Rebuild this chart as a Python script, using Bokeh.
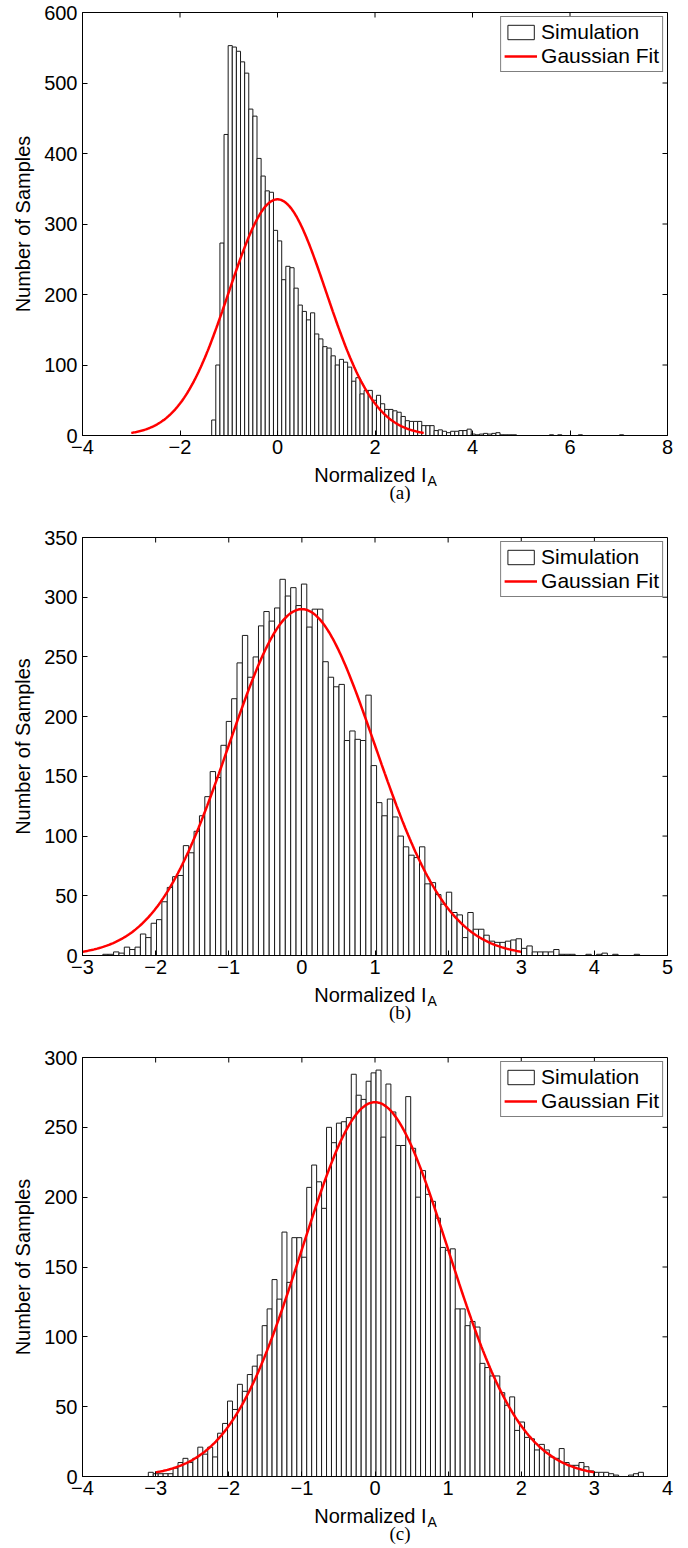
import numpy as np
from bokeh.plotting import figure
from bokeh.models import Range1d, Legend, LegendItem, FixedTicker
from bokeh.core.properties import value
from bokeh.layouts import column
from bokeh.embed import file_html
from bokeh.resources import INLINE

FONT = "Liberation Sans"
SERIF = "Liberation Serif"

# ---------------- data: panel (a) ----------------
a_bin_start = -1.35
a_bin_width = 0.0845
a_counts = [22, 100, 273, 427, 553, 551, 545, 530, 514, 463, 453, 393, 368, 347, 345,
            291, 276, 221, 240, 238, 209, 185, 176, 164, 174, 144, 137, 126, 124, 113,
            100, 108, 104, 97, 77, 82, 59, 64, 64, 50, 57, 45, 37,
            37, 35, 33, 27, 21, 20, 20, 20, 14, 14, 14, 7, 8, 6, 4, 6, 6, 7, 7, 9,
            2, 1, 2, 3, 2, 3, 4, 1, 1, 1, 1,
            0, 0, 0, 0, 0, 0, 0, 0, 1, 0, 1, 0, 0, 0, 0, 1, 0, 0, 0, 0, 0, 0, 0, 0, 0, 1]
a_fit = dict(peak=335, mean=0.0, sigma=1.0, lo=-3.0, hi=3.0)
a_xticks = [-4, -2, 0, 2, 4, 6, 8]
a_xlabels = ["\u22124", "\u22122", "0", "2", "4", "6", "8"]
a_yticks = [0, 100, 200, 300, 400, 500, 600]
a_ylabels = ["0", "100", "200", "300", "400", "500", "600"]

# ---------------- data: panel (b) ----------------
b_bin_start = -2.722
b_bin_width = 0.0734
b_counts = [1, 1, 3, 2, 7, 5, 7, 18, 15, 27, 30, 45, 57, 66, 67, 92, 86, 104, 117, 133,
            154, 149, 176, 196, 215, 245, 268, 233, 250, 276, 288, 280, 291, 315, 301, 308,
            293, 311, 275, 290, 290, 246, 233, 225, 227, 180, 188, 181, 180, 218,
            159, 128, 117, 131, 116, 100, 91, 84, 82, 91, 60, 61, 51, 43, 53, 36, 34, 15,
            36, 22, 22, 17, 12, 11, 11, 12, 13, 14, 6, 8, 3, 3, 3, 3, 5, 1, 1, 1, 0, 0,
            1, 0, 1, 2, 0, 1, 0, 0, 0, 1]
b_fit = dict(peak=290, mean=0.0, sigma=1.0, lo=-3.0, hi=3.0)
b_xticks = [-3, -2, -1, 0, 1, 2, 3, 4, 5]
b_xlabels = ["\u22123", "\u22122", "\u22121", "0", "1", "2", "3", "4", "5"]
b_yticks = [0, 50, 100, 150, 200, 250, 300, 350]
b_ylabels = ["0", "50", "100", "150", "200", "250", "300", "350"]

# ---------------- data: panel (c) ----------------
c_bin_start = -3.10
c_bin_width = 0.0677
c_counts = [3, 2, 2, 2, 2, 6, 10, 13, 10, 13, 21, 16, 21, 14, 31, 38, 54, 48, 66, 61,
            73, 79, 87, 108, 120, 141, 127, 175, 139, 171, 171, 157, 207, 223, 211, 192,
            250, 239, 253, 254, 257, 288, 273, 270,
            283, 289, 291, 243, 281, 261, 237, 237, 272, 235, 200, 219, 202, 197, 185, 164,
            162, 163, 120, 120, 108, 111, 107, 81, 78, 72, 72, 60, 51, 57, 33, 39, 28, 27,
            19, 23, 19, 14, 13, 20, 10, 8, 8, 10, 7, 4, 3, 3, 3, 2, 1, 0, 0, 1, 2, 3]
c_fit = dict(peak=268, mean=0.0, sigma=1.0, lo=-3.0, hi=3.0)
c_xticks = [-4, -3, -2, -1, 0, 1, 2, 3, 4]
c_xlabels = ["\u22124", "\u22123", "\u22122", "\u22121", "0", "1", "2", "3", "4"]
c_yticks = [0, 50, 100, 150, 200, 250, 300]
c_ylabels = ["0", "50", "100", "150", "200", "250", "300"]

X_LABEL = "Normalized I"
X_LABEL_SUB = "A"
Y_LABEL = "Number of Samples"

PAGE_W = 688
BORDER_L = 82
BORDER_R = 21
FRAME_W = PAGE_W - BORDER_L - BORDER_R   # 585
BORDER_B = 27
TICK_LEN = 5
STRIP_H = 44


def make_panel(counts, bin_start, bin_width, fit, xticks, xlabels, yticks, ylabels,
               border_top, frame_h):
    xr = (xticks[0], xticks[-1])
    yr = (yticks[0], yticks[-1])
    p = figure(frame_width=FRAME_W, frame_height=frame_h,
               x_range=Range1d(*xr), y_range=Range1d(*yr),
               output_backend="svg", toolbar_location=None,
               min_border_left=BORDER_L, min_border_right=BORDER_R,
               min_border_top=border_top, min_border_bottom=BORDER_B,
               background_fill_color="white", border_fill_color="white")
    p.outline_line_color = "black"
    p.outline_line_width = 1
    p.outline_line_alpha = 1
    p.xgrid.visible = False
    p.ygrid.visible = False

    # histogram bars
    n = len(counts)
    edges = bin_start + bin_width * np.arange(n + 1)
    bars = p.quad(left=edges[:-1], right=edges[1:], top=counts, bottom=0,
                  fill_color="white", line_color="#1a1a1a", line_width=1)

    # gaussian fit
    xs = np.linspace(fit["lo"], fit["hi"], 300)
    ys = fit["peak"] * np.exp(-((xs - fit["mean"]) ** 2) / (2 * fit["sigma"] ** 2))
    fitline = p.line(xs, ys, line_color="#ff0000", line_width=2.5)

    # axes styling
    for ax, ticks, labels in ((p.xaxis[0], xticks, xlabels), (p.yaxis[0], yticks, ylabels)):
        ax.ticker = FixedTicker(ticks=ticks)
        ax.major_label_overrides = {t: l for t, l in zip(ticks, labels)}
        ax.major_tick_in = TICK_LEN
        ax.major_tick_out = 0
        ax.minor_tick_line_color = None
        ax.axis_line_color = "black"
        ax.major_tick_line_color = "black"
        ax.major_label_text_color = "black"
        ax.major_label_text_font = FONT
        ax.major_label_text_font_size = "20px"
    p.xaxis.major_label_standoff = 4
    p.yaxis.major_label_standoff = 5
    p.yaxis.axis_label = Y_LABEL
    p.yaxis.axis_label_text_font = FONT
    p.yaxis.axis_label_text_font_size = "20px"
    p.yaxis.axis_label_text_font_style = "normal"
    p.yaxis.axis_label_text_color = "black"
    p.yaxis.axis_label_standoff = 7

    # mirrored inward ticks on the top and right edges of the box
    px_x = FRAME_W / (xr[1] - xr[0])
    px_y = frame_h / (yr[1] - yr[0])
    tx = np.array(xticks, dtype=float)
    ty = np.array(yticks, dtype=float)
    p.segment(x0=tx, y0=np.full_like(tx, yr[1]), x1=tx, y1=yr[1] - TICK_LEN / px_y,
              line_color="black", line_width=1)
    p.segment(x0=np.full_like(ty, xr[1]), y0=ty, x1=xr[1] - TICK_LEN / px_x, y1=ty,
              line_color="black", line_width=1)

    legend = Legend(items=[LegendItem(label="Simulation", renderers=[bars]),
                           LegendItem(label="Gaussian Fit", renderers=[fitline])],
                    location="top_right")
    legend.margin = 4
    legend.padding = 3
    legend.spacing = 0
    legend.glyph_width = 33
    legend.glyph_height = 18
    legend.label_height = 20
    legend.label_standoff = 4
    legend.label_text_font = FONT
    legend.label_text_font_size = "21px"
    legend.label_text_color = "black"
    legend.border_line_color = "black"
    legend.border_line_width = 1
    legend.background_fill_color = "white"
    legend.background_fill_alpha = 1
    p.add_layout(legend)
    return p


def make_strip(xticks, caption):
    # strip under a panel: x-axis label (with subscript) and the caption
    xr = (xticks[0], xticks[-1])
    s = figure(frame_width=FRAME_W, frame_height=STRIP_H,
               x_range=Range1d(*xr), y_range=Range1d(STRIP_H, 0),
               output_backend="svg", toolbar_location=None,
               min_border_left=BORDER_L, min_border_right=BORDER_R,
               min_border_top=0, min_border_bottom=0,
               x_axis_location=None, y_axis_location=None,
               background_fill_color="white", border_fill_color="white")
    s.outline_line_color = None
    s.xgrid.visible = False
    s.ygrid.visible = False
    px_x = FRAME_W / (xr[1] - xr[0])
    xc = (xr[0] + xr[1]) / 2.0
    s.text(x=[xc + 51.5 / px_x], y=[12], text=[X_LABEL], text_align="right",
           text_baseline="middle", text_font=value(FONT), text_font_size="20px",
           text_color="black")
    s.text(x=[xc + 52.5 / px_x], y=[18], text=[X_LABEL_SUB], text_align="left",
           text_baseline="middle", text_font=value(FONT), text_font_size="14px",
           text_color="black")
    s.text(x=[xc + 25 / px_x], y=[30], text=[caption], text_align="center",
           text_baseline="middle", text_font=value(SERIF), text_font_size="19px",
           text_color="black")
    return s


pa = make_panel(a_counts, a_bin_start, a_bin_width, a_fit, a_xticks, a_xlabels,
                a_yticks, a_ylabels, 12, 423)
pb = make_panel(b_counts, b_bin_start, b_bin_width, b_fit, b_xticks, b_xlabels,
                b_yticks, b_ylabels, 31, 418)
pc = make_panel(c_counts, c_bin_start, c_bin_width, c_fit, c_xticks, c_xlabels,
                c_yticks, c_ylabels, 31, 419)

layout = column(pa, make_strip(a_xticks, "(a)"),
                pb, make_strip(b_xticks, "(b)"),
                pc, make_strip(c_xticks, "(c)"),
                spacing=0)
open("out.html", "w").write(file_html(layout, INLINE))
